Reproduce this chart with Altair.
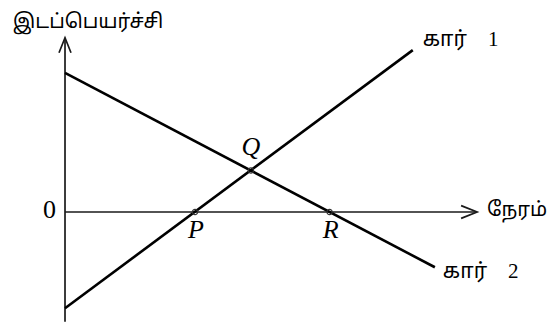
import altair as alt
import pandas as pd

# Displacement-time lines of the two cars (arbitrary units)
car1_t = [0.0, 5.35]
car1_d = [-1.48, 2.49]
car2_t = [0.0, 5.69]
car2_d = [2.14, -0.85]
car_names = ["கார்\u00a0\u00a0\u00a0 1", "கார்\u00a0\u00a0\u00a0 2"]

# Marked points
pt_names = ["P", "Q", "R"]
pt_t = [2.0, 2.86, 4.07]
pt_d = [0.0, 0.64, 0.0]

# Axis extents
x_axis_end = 6.34
y_axis_top = 2.68
y_axis_bottom = -1.69

x_title = "நேரம்"
y_title = "இடப்பெயர்ச்சி"
origin_label = "0"

TAMIL = "Latha, 'Noto Sans Tamil', 'Noto Serif Tamil', 'Lohit Tamil', 'Liberation Serif', serif"
MIXED = "'Liberation Serif', Latha, 'Noto Sans Tamil', 'Noto Serif Tamil', 'Lohit Tamil', serif"
SERIF = "'Liberation Serif', 'Times New Roman', serif"

xs = alt.Scale(domain=[-0.877, 7.492], nice=False, zero=False)
ys = alt.Scale(domain=[-1.692, 3.138], nice=False, zero=False)
X = alt.X("t:Q", scale=xs, axis=None)
Y = alt.Y("d:Q", scale=ys, axis=None)

lines = pd.DataFrame({
    "t": car1_t + car2_t,
    "d": car1_d + car2_d,
    "car": [car_names[0]] * 2 + [car_names[1]] * 2,
})
ends = pd.DataFrame({"t": [car1_t[-1], car2_t[-1]], "d": [car1_d[-1], car2_d[-1]], "car": car_names})
axes = pd.DataFrame({
    "t": [0.0, x_axis_end, 0.0, 0.0],
    "d": [0.0, 0.0, y_axis_bottom, y_axis_top],
    "ax": ["x", "x", "y", "y"],
})
pts = pd.DataFrame({"t": pt_t, "d": pt_d, "name": pt_names})
xtip = pd.DataFrame({"t": [x_axis_end], "d": [0.0], "lab": [x_title]})
ytip = pd.DataFrame({"t": [0.0], "d": [y_axis_top], "lab": [y_title]})
orig = pd.DataFrame({"t": [0.0], "d": [0.0], "lab": [origin_label]})

axis_lines = alt.Chart(axes).mark_line(color="#1a1a1a", strokeWidth=1.7).encode(x=X, y=Y, detail="ax:N")
x_arrow = alt.Chart(xtip).mark_point(
    shape="M-1,-0.4L0,0L-1,0.4", size=1024, filled=False, stroke="#1a1a1a", strokeWidth=1.7, opacity=1
).encode(x=X, y=Y)
y_arrow = alt.Chart(ytip).mark_point(
    shape="M-0.4,1L0,0L0.4,1", size=900, filled=False, stroke="#1a1a1a", strokeWidth=1.7, opacity=1
).encode(x=X, y=Y)

car_lines = alt.Chart(lines).mark_line(color="black", strokeWidth=2.6).encode(x=X, y=Y, detail="car:N")

car1_lab = alt.Chart(ends.iloc[[0]]).mark_text(
    align="left", baseline="middle", dx=10, dy=-10, fontSize=21, font=MIXED, color="black"
).encode(x=X, y=Y, text="car:N")
car2_lab = alt.Chart(ends.iloc[[1]]).mark_text(
    align="left", baseline="middle", dx=8, dy=5, fontSize=21, font=MIXED, color="black"
).encode(x=X, y=Y, text="car:N")

circles = alt.Chart(pts).mark_point(
    shape="circle", size=28, filled=False, stroke="#333", strokeWidth=1.2, opacity=1
).encode(x=X, y=Y)
q_lab = alt.Chart(pts[pts.name == "Q"]).mark_text(
    align="center", baseline="middle", dy=-23, fontSize=26, font=SERIF, fontStyle="italic", color="black"
).encode(x=X, y=Y, text="name:N")
pr_lab = alt.Chart(pts[pts.name != "Q"]).mark_text(
    align="center", baseline="middle", dx=1, dy=18, fontSize=26, font=SERIF, fontStyle="italic", color="black"
).encode(x=X, y=Y, text="name:N")

x_title_t = alt.Chart(xtip).mark_text(
    align="left", baseline="middle", dx=10, dy=-2, fontSize=20, font=TAMIL, color="black"
).encode(x=X, y=Y, text="lab:N")
y_title_t = alt.Chart(ytip).mark_text(
    align="center", baseline="middle", dx=23, dy=-16, fontSize=20, font=TAMIL, color="black"
).encode(x=X, y=Y, text="lab:N")
orig_t = alt.Chart(orig).mark_text(
    align="right", baseline="middle", dx=-9, dy=-2, fontSize=26, font=SERIF, color="black"
).encode(x=X, y=Y, text="lab:N")

chart = alt.layer(
    axis_lines, x_arrow, y_arrow, car_lines, circles,
    car1_lab, car2_lab, q_lab, pr_lab, x_title_t, y_title_t, orig_t,
).properties(
    width=544, height=314, padding=0, autosize=alt.AutoSizeParams(type="none")
).configure_view(stroke=None)

chart.save("out.html", embed_options={"renderer": "svg", "actions": False})
